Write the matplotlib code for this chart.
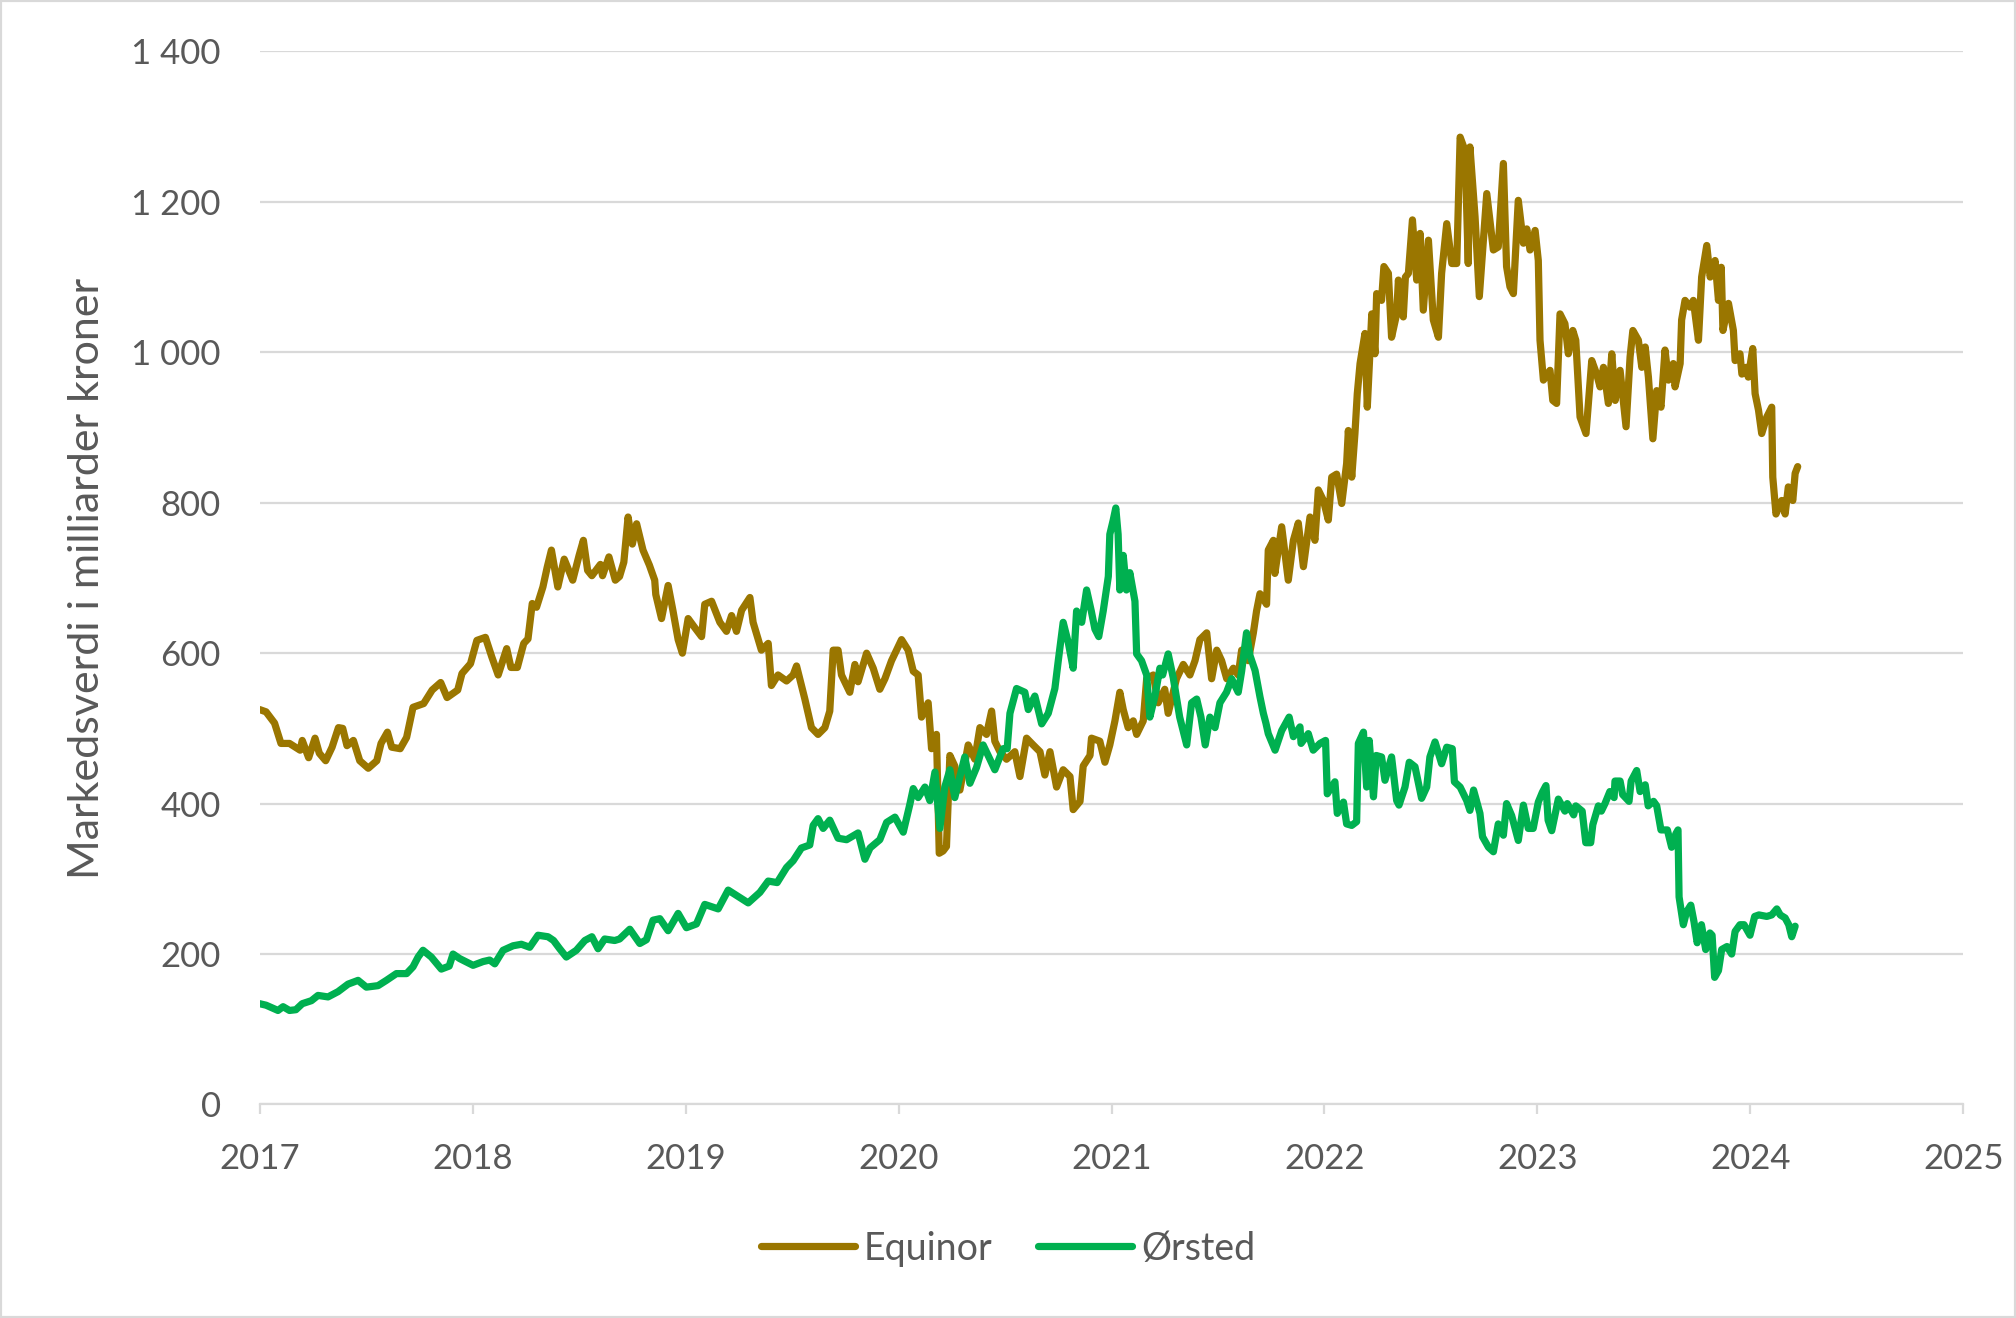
import matplotlib
matplotlib.use("Agg")
import matplotlib.pyplot as plt
from matplotlib.patches import Rectangle

plt.rcParams['font.family'] = ['Lato', 'DejaVu Sans']

series_names = ["Equinor", "Ørsted"]
y_ticks = [0, 200, 400, 600, 800, 1000, 1200, 1400]
x_ticks = [2017, 2018, 2019, 2020, 2021, 2022, 2023, 2024, 2025]
y_label = "Markedsverdi i milliarder kroner"

equinor_t = [
    2017.00, 2017.03, 2017.07, 2017.10, 2017.14, 2017.19, 2017.20, 2017.23, 2017.26, 2017.28,
    2017.31, 2017.34, 2017.37, 2017.39, 2017.41, 2017.44, 2017.47, 2017.51, 2017.55, 2017.57,
    2017.60, 2017.62, 2017.66, 2017.69, 2017.72, 2017.77, 2017.81, 2017.85, 2017.88, 2017.93,
    2017.95, 2017.99, 2018.02, 2018.06, 2018.09, 2018.12, 2018.16, 2018.18, 2018.21, 2018.24,
    2018.26, 2018.28, 2018.30, 2018.33, 2018.35, 2018.37, 2018.40, 2018.43, 2018.47, 2018.50,
    2018.52, 2018.54, 2018.56, 2018.60, 2018.61, 2018.64, 2018.67, 2018.69, 2018.71, 2018.73,
    2018.75, 2018.77, 2018.80, 2018.83, 2018.855, 2018.86, 2018.887, 2018.918, 2018.941, 2018.965,
    2018.985, 2019.012, 2019.043, 2019.075, 2019.090, 2019.122, 2019.161, 2019.192, 2019.216, 2019.239,
    2019.263, 2019.302, 2019.317, 2019.341, 2019.356, 2019.388, 2019.403, 2019.434, 2019.474, 2019.505,
    2019.521, 2019.544, 2019.560, 2019.591, 2019.622, 2019.654, 2019.677, 2019.693, 2019.716, 2019.732,
    2019.771, 2019.795, 2019.810, 2019.850, 2019.881, 2019.912, 2019.936, 2019.967, 2020.014, 2020.045,
    2020.069, 2020.092, 2020.108, 2020.139, 2020.155, 2020.178, 2020.191, 2020.209, 2020.225, 2020.241,
    2020.264, 2020.288, 2020.327, 2020.358, 2020.382, 2020.413, 2020.437, 2020.452, 2020.476, 2020.507,
    2020.546, 2020.570, 2020.601, 2020.632, 2020.664, 2020.687, 2020.711, 2020.742, 2020.773, 2020.805,
    2020.820, 2020.852, 2020.867, 2020.899, 2020.906, 2020.945, 2020.969, 2020.992, 2021.016, 2021.039,
    2021.055, 2021.078, 2021.102, 2021.118, 2021.149, 2021.165, 2021.196, 2021.219, 2021.250, 2021.266,
    2021.305, 2021.337, 2021.368, 2021.392, 2021.415, 2021.447, 2021.470, 2021.494, 2021.517, 2021.541,
    2021.572, 2021.595, 2021.611, 2021.642, 2021.666, 2021.681, 2021.697, 2021.728, 2021.736, 2021.760,
    2021.767, 2021.799, 2021.830, 2021.854, 2021.877, 2021.901, 2021.932, 2021.955, 2021.971, 2021.995,
    2022.018, 2022.034, 2022.057, 2022.081, 2022.104, 2022.112, 2022.128, 2022.143, 2022.154, 2022.167,
    2022.190, 2022.201, 2022.222, 2022.237, 2022.245, 2022.268, 2022.279, 2022.300, 2022.315, 2022.339,
    2022.347, 2022.370, 2022.380, 2022.394, 2022.413, 2022.433, 2022.449, 2022.464, 2022.488, 2022.511,
    2022.535, 2022.550, 2022.574, 2022.598, 2022.621, 2022.637, 2022.660, 2022.675, 2022.683, 2022.707,
    2022.727, 2022.762, 2022.793, 2022.816, 2022.840, 2022.855, 2022.871, 2022.887, 2022.910, 2022.934,
    2022.950, 2022.965, 2022.989, 2023.004, 2023.012, 2023.028, 2023.059, 2023.072, 2023.090, 2023.106,
    2023.129, 2023.145, 2023.166, 2023.180, 2023.200, 2023.228, 2023.255, 2023.278, 2023.294, 2023.310,
    2023.333, 2023.349, 2023.365, 2023.388, 2023.416, 2023.435, 2023.448, 2023.474, 2023.490, 2023.506,
    2023.521, 2023.542, 2023.560, 2023.580, 2023.599, 2023.615, 2023.638, 2023.646, 2023.670, 2023.677,
    2023.693, 2023.716, 2023.732, 2023.756, 2023.771, 2023.795, 2023.811, 2023.834, 2023.850, 2023.863,
    2023.871, 2023.897, 2023.920, 2023.928, 2023.951, 2023.960, 2023.980, 2023.990, 2024.011, 2024.022,
    2024.038, 2024.053, 2024.077, 2024.100, 2024.105, 2024.120, 2024.147, 2024.163, 2024.178, 2024.199,
    2024.210, 2024.222,
]
equinor_v = [
    525, 522, 507, 480, 480, 471, 484, 461, 487, 467,
    457, 475, 501, 500, 477, 484, 457, 447, 457, 480,
    495, 475, 473, 488, 528, 533, 551, 561, 541, 551,
    573, 586, 617, 621, 595, 571, 606, 581, 581, 613,
    619, 666, 661, 688, 714, 737, 688, 725, 697, 730,
    750, 710, 703, 718, 703, 728, 697, 702, 721, 781,
    745, 772, 737, 717, 697, 678, 646, 690, 656, 618,
    600, 646, 634, 622, 665, 669, 641, 629, 650, 629,
    657, 674, 641, 618, 604, 613, 557, 571, 563, 571,
    583, 557, 539, 501, 492, 501, 523, 604, 604, 571,
    548, 585, 562, 600, 580, 552, 566, 590, 618, 604,
    576, 571, 515, 534, 473, 492, 334, 337, 343, 464,
    450, 418, 478, 459, 501, 492, 523, 483, 469, 459,
    469, 436, 487, 478, 469, 438, 469, 422, 445, 436,
    392, 403, 450, 464, 487, 483, 455, 478, 510, 548,
    525, 501, 510, 492, 510, 566, 571, 534, 552, 520,
    566, 585, 571, 590, 618, 627, 566, 604, 590, 566,
    580, 571, 604, 590, 627, 656, 679, 665, 737, 750,
    706, 768, 697, 750, 773, 715, 781, 750, 817, 803,
    777, 834, 838, 799, 852, 896, 834, 892, 945, 985,
    1025, 927, 1051, 998, 1078, 1069, 1114, 1105, 1020, 1051,
    1096, 1047, 1100, 1105, 1176, 1096, 1158, 1056, 1149, 1043,
    1020, 1105, 1171, 1118, 1118, 1286, 1268, 1118, 1273, 1180,
    1074, 1211, 1136, 1140, 1251, 1114, 1087, 1078, 1202, 1145,
    1164, 1136, 1162, 1122, 1016, 963, 976, 936, 932, 1051,
    1038, 998, 1029, 1016, 914, 892, 989, 971, 954, 980,
    932, 998, 936, 976, 901, 994, 1029, 1016, 980, 1007,
    967, 885, 949, 927, 1003, 963, 985, 954, 985, 1043,
    1069, 1060, 1069, 1016, 1100, 1142, 1100, 1122, 1069, 1113,
    1029, 1065, 1029, 989, 998, 971, 980, 967, 1005, 945,
    923, 892, 914, 927, 834, 785, 803, 785, 821, 803,
    839, 848,
]

orsted_t = [
    2017.00, 2017.03, 2017.086, 2017.11, 2017.14, 2017.17, 2017.20, 2017.243, 2017.274, 2017.321,
    2017.368, 2017.415, 2017.462, 2017.501, 2017.556, 2017.595, 2017.642, 2017.69, 2017.72, 2017.744,
    2017.767, 2017.806, 2017.853, 2017.89, 2017.908, 2017.939, 2018.002, 2018.049, 2018.08, 2018.104,
    2018.143, 2018.19, 2018.229, 2018.268, 2018.307, 2018.354, 2018.38, 2018.409, 2018.44, 2018.487,
    2018.527, 2018.56, 2018.589, 2018.62, 2018.667, 2018.69, 2018.738, 2018.785, 2018.816, 2018.847,
    2018.879, 2018.918, 2018.965, 2019.004, 2019.051, 2019.09, 2019.153, 2019.20, 2019.239, 2019.294,
    2019.349, 2019.388, 2019.43, 2019.474, 2019.505, 2019.544, 2019.583, 2019.599, 2019.622, 2019.646,
    2019.677, 2019.716, 2019.756, 2019.81, 2019.842, 2019.866, 2019.912, 2019.944, 2019.983, 2020.022,
    2020.053, 2020.069, 2020.092, 2020.124, 2020.147, 2020.171, 2020.194, 2020.217, 2020.241, 2020.264,
    2020.288, 2020.311, 2020.335, 2020.366, 2020.397, 2020.429, 2020.452, 2020.491, 2020.510, 2020.523,
    2020.554, 2020.593, 2020.609, 2020.640, 2020.672, 2020.703, 2020.734, 2020.750, 2020.773, 2020.797,
    2020.820, 2020.836, 2020.860, 2020.883, 2020.905, 2020.922, 2020.940, 2020.961, 2020.985, 2020.992,
    2021.008, 2021.020, 2021.031, 2021.039, 2021.055, 2021.070, 2021.086, 2021.110, 2021.118, 2021.141,
    2021.165, 2021.180, 2021.204, 2021.227, 2021.240, 2021.266, 2021.290, 2021.320, 2021.353, 2021.376,
    2021.400, 2021.420, 2021.440, 2021.462, 2021.486, 2021.509, 2021.540, 2021.564, 2021.595, 2021.611,
    2021.634, 2021.650, 2021.674, 2021.697, 2021.713, 2021.725, 2021.736, 2021.768, 2021.799, 2021.834,
    2021.854, 2021.885, 2021.890, 2021.924, 2021.947, 2021.979, 2022.005, 2022.013, 2022.049, 2022.060,
    2022.089, 2022.104, 2022.128, 2022.151, 2022.159, 2022.183, 2022.198, 2022.210, 2022.230, 2022.243,
    2022.268, 2022.284, 2022.315, 2022.339, 2022.350, 2022.378, 2022.398, 2022.425, 2022.456, 2022.480,
    2022.495, 2022.519, 2022.550, 2022.574, 2022.600, 2022.610, 2022.637, 2022.668, 2022.683, 2022.700,
    2022.730, 2022.742, 2022.770, 2022.793, 2022.816, 2022.840, 2022.855, 2022.879, 2022.910, 2022.934,
    2022.957, 2022.980, 2023.004, 2023.023, 2023.040, 2023.050, 2023.067, 2023.098, 2023.129, 2023.140,
    2023.170, 2023.180, 2023.210, 2023.227, 2023.250, 2023.260, 2023.286, 2023.300, 2023.317, 2023.340,
    2023.360, 2023.364, 2023.388, 2023.400, 2023.430, 2023.440, 2023.466, 2023.482, 2023.506, 2023.520,
    2023.545, 2023.560, 2023.580, 2023.610, 2023.630, 2023.650, 2023.660, 2023.665, 2023.685, 2023.700,
    2023.720, 2023.735, 2023.750, 2023.770, 2023.790, 2023.810, 2023.820, 2023.832, 2023.850, 2023.865,
    2023.890, 2023.912, 2023.928, 2023.951, 2023.970, 2023.998, 2024.020, 2024.040, 2024.077, 2024.100,
    2024.124, 2024.140, 2024.163, 2024.180, 2024.194, 2024.210,
]
orsted_v = [
    134, 132, 125, 130, 125, 126, 134, 138, 145, 143,
    150, 160, 165, 156, 158, 165, 174, 174, 183, 196,
    205, 196, 180, 184, 200, 194, 185, 190, 192, 187,
    205, 211, 213, 209, 225, 223, 218, 207, 196, 205,
    218, 223, 207, 220, 218, 220, 233, 214, 219, 245,
    247, 231, 254, 235, 240, 266, 260, 285, 278, 268,
    282, 297, 295, 315, 324, 341, 345, 371, 380, 367,
    378, 354, 352, 361, 326, 341, 352, 375, 382, 362,
    399, 420, 408, 422, 404, 442, 367, 422, 445, 408,
    436, 462, 427, 448, 478, 459, 445, 473, 473, 520,
    553, 548, 525, 543, 506, 520, 553, 590, 641, 614,
    580, 656, 641, 684, 656, 632, 622, 656, 702, 758,
    777, 793, 758, 684, 730, 684, 707, 669, 599, 590,
    571, 515, 543, 580, 571, 599, 567, 515, 478, 534,
    539, 515, 478, 515, 501, 534, 548, 566, 548, 576,
    627, 597, 577, 542, 520, 507, 493, 471, 497, 515,
    489, 502, 480, 493, 471, 480, 484, 413, 429, 387,
    402, 373, 371, 376, 480, 495, 422, 484, 409, 464,
    462, 431, 462, 404, 398, 422, 455, 449, 407, 422,
    462, 482, 453, 475, 473, 429, 422, 404, 391, 418,
    387, 356, 342, 336, 373, 358, 400, 384, 351, 398,
    367, 367, 402, 415, 424, 378, 364, 406, 390, 400,
    385, 397, 390, 348, 348, 372, 397, 390, 400, 416,
    408, 430, 430, 412, 403, 430, 444, 416, 425, 397,
    403, 397, 365, 365, 342, 360, 365, 276, 239, 256,
    265, 243, 215, 239, 206, 228, 225, 169, 178, 206,
    210, 200, 230, 239, 239, 225, 250, 252, 250, 252,
    260, 252, 248, 239, 223, 237,
]

colors = ["#9A7600", "#00B050"]
text_color = "#595959"
grid_color = "#D9D9D9"

fig = plt.figure(figsize=(20.16, 13.18), dpi=100)
ax = fig.add_axes([0.1288, 0.162, 0.9739 - 0.1288, 0.961 - 0.162])

ax.plot(equinor_t, equinor_v, color=colors[0], lw=5.2, solid_joinstyle='round',
        solid_capstyle='round', label=series_names[0], zorder=3)
ax.plot(orsted_t, orsted_v, color=colors[1], lw=5.2, solid_joinstyle='round',
        solid_capstyle='round', label=series_names[1], zorder=3)

ax.set_xlim(2017, 2025)
ax.set_ylim(0, 1400)
ax.set_yticks(y_ticks)
ax.set_yticklabels([f"{v:,}".replace(",", " ") for v in y_ticks])
ax.set_xticks(x_ticks)
ax.set_xticklabels([str(x) for x in x_ticks])

ax.grid(axis='y', color=grid_color, lw=1.6)
ax.grid(axis='x', visible=False)
ax.set_axisbelow(True)
for s in ['top', 'right', 'left']:
    ax.spines[s].set_visible(False)
ax.spines['bottom'].set_color(grid_color)
ax.spines['bottom'].set_linewidth(1.6)

ax.tick_params(axis='y', length=0, pad=28, labelsize=25, labelcolor=text_color)
ax.tick_params(axis='x', length=7, width=1.6, color=grid_color, pad=21,
               labelsize=25, labelcolor=text_color, direction='out')

fig.text(0.0434, 0.561, y_label, rotation=90, ha='center', va='center',
         fontsize=31, color=text_color)

leg = fig.legend(loc='center', bbox_to_anchor=(0.5, 0.0527), ncol=2, frameon=False,
                 fontsize=27, handlelength=2.5, handletextpad=0.25, columnspacing=1.2,
                 labelcolor=text_color)

fig.patches.append(Rectangle((0, 0), 1, 1, transform=fig.transFigure, fill=False,
                             edgecolor=grid_color, lw=3))

fig.savefig('out.png', dpi=100)
